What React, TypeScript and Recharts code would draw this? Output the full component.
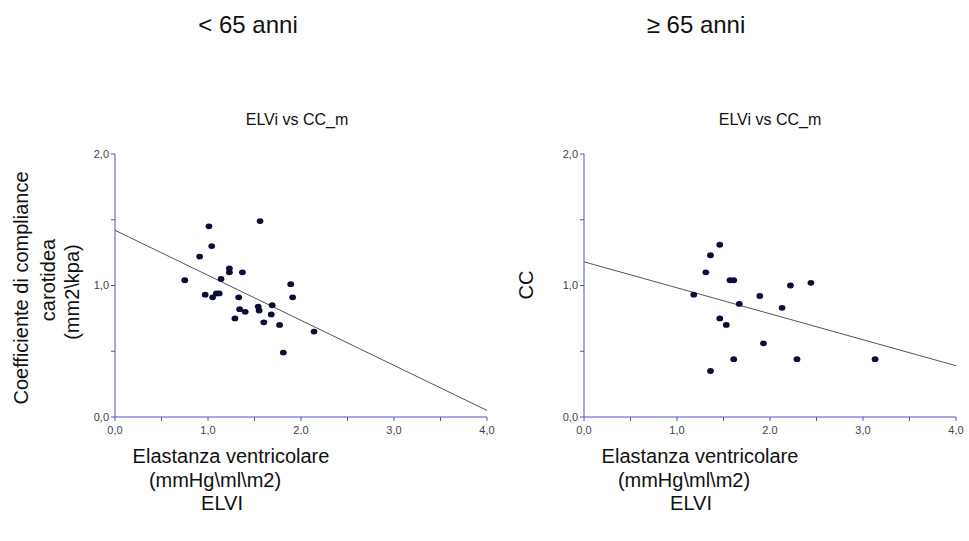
import React from 'react';
import { ScatterChart, Scatter, XAxis, YAxis, ReferenceLine } from 'recharts';

// ---- data ----
const leftX = [1.01, 1.56, 1.04, 0.91, 1.23, 1.23, 1.37, 1.14, 0.75, 1.89, 0.97, 1.05, 1.09, 1.12, 1.33, 1.91, 1.34, 1.40, 1.29, 1.54, 1.55, 1.69, 1.68, 1.60, 1.77, 1.81, 2.14];
const leftY = [1.45, 1.49, 1.30, 1.22, 1.13, 1.10, 1.10, 1.05, 1.04, 1.01, 0.93, 0.91, 0.94, 0.94, 0.91, 0.91, 0.82, 0.80, 0.75, 0.84, 0.81, 0.85, 0.78, 0.72, 0.70, 0.49, 0.65];
const rightX = [1.46, 1.36, 1.31, 1.57, 1.61, 2.22, 2.44, 1.18, 1.89, 1.67, 2.13, 1.46, 1.53, 1.93, 1.61, 2.29, 3.13, 1.36];
const rightY = [1.31, 1.23, 1.10, 1.04, 1.04, 1.00, 1.02, 0.93, 0.92, 0.86, 0.83, 0.75, 0.70, 0.56, 0.44, 0.44, 0.44, 0.35];
const leftFit = [1.42, 0.05]; // y at x=0 and x=4
const rightFit = [1.18, 0.39];
const xTicks = [0, 0.5, 1, 1.5, 2, 2.5, 3, 3.5, 4];
const xTickLabels: Record<string, string> = { '0': '0,0', '1': '1,0', '2': '2.0', '3': '3,0', '4': '4,0' };
const yTicks = [0, 0.5, 1, 1.5, 2];
const yTickLabels: Record<string, string> = { '0': '0,0', '1': '1,0', '2': '2,0' };
const panelTitles = ['< 65 anni', '≥ 65 anni'];
const chartTitle = 'ELVi vs CC_m';
const xLabelLines = ['Elastanza ventricolare', '(mmHg\\ml\\m2)', 'ELVI'];
const leftYLabelLines = ['Coefficiente di compliance', 'carotidea', '(mm2\\kpa)'];
const rightYLabel = 'CC';

const FONT = '"Liberation Sans", Arial, sans-serif';
const AXIS = '#4f4fc4';
const DOT = '#0c0c3a';

const Dot = (p: any) => <ellipse cx={p.cx} cy={p.cy} rx={3.4} ry={2.9} fill={DOT} />;

function Panel({ xs, ys, fit }: { xs: number[]; ys: number[]; fit: number[] }) {
  const data = xs.map((x, i) => ({ x, y: ys[i] }));
  return (
    <ScatterChart width={500} height={541} margin={{ top: 154, right: 13, bottom: 94, left: 85 }}>
      <XAxis
        type="number"
        dataKey="x"
        domain={[0, 4]}
        ticks={xTicks}
        interval={0}
        allowDataOverflow
        tickFormatter={(v: number) => xTickLabels[String(v)] ?? ''}
        stroke={AXIS}
        tickSize={4}
        tickMargin={5}
        tick={{ fill: '#444', fontSize: 11, fontFamily: FONT }}
        height={30}
      />
      <YAxis
        type="number"
        dataKey="y"
        domain={[0, 2]}
        ticks={yTicks}
        interval={0}
        allowDataOverflow
        tickFormatter={(v: number) => yTickLabels[String(v)] ?? ''}
        stroke={AXIS}
        tickSize={4}
        tickMargin={2}
        tick={{ fill: '#444', fontSize: 11, fontFamily: FONT }}
        width={30}
      />
      <ReferenceLine
        segment={[{ x: 0, y: fit[0] }, { x: 4, y: fit[1] }]}
        stroke="#555"
        strokeWidth={1}
        ifOverflow="visible"
      />
      <Scatter data={data} shape={Dot} isAnimationActive={false} />
    </ScatterChart>
  );
}

const txt = (left: number, top: number, size: number, content: string, rotate = false): React.ReactNode => (
  <div
    key={content + left + top}
    style={{
      position: 'absolute',
      left,
      top,
      fontSize: size,
      fontFamily: FONT,
      color: '#111',
      whiteSpace: 'nowrap',
      lineHeight: 1,
      transform: `translate(-50%, -50%)${rotate ? ' rotate(-90deg)' : ''}`,
    }}
  >
    {content}
  </div>
);

export default function App() {
  return (
    <div style={{ position: 'absolute', left: 0, top: 0, width: 969, height: 541, background: '#fff', overflow: 'hidden' }}>
      <div style={{ position: 'absolute', left: 0, top: 0 }}>
        <Panel xs={leftX} ys={leftY} fit={leftFit} />
      </div>
      <div style={{ position: 'absolute', left: 469, top: 0 }}>
        <Panel xs={rightX} ys={rightY} fit={rightFit} />
      </div>
      {txt(248, 25, 24, panelTitles[0])}
      {txt(696, 25, 24, panelTitles[1])}
      {txt(297, 120, 16, chartTitle)}
      {txt(770, 120, 16, chartTitle)}
      {txt(231, 456, 20, xLabelLines[0])}
      {txt(215, 480, 20, xLabelLines[1])}
      {txt(222, 503, 20, xLabelLines[2])}
      {txt(700, 456, 20, xLabelLines[0])}
      {txt(684, 480, 20, xLabelLines[1])}
      {txt(691, 503, 20, xLabelLines[2])}
      {txt(21, 288, 20, leftYLabelLines[0], true)}
      {txt(48, 280, 20, leftYLabelLines[1], true)}
      {txt(72, 292, 20, leftYLabelLines[2], true)}
      {txt(526, 285, 20, rightYLabel, true)}
    </div>
  );
}
